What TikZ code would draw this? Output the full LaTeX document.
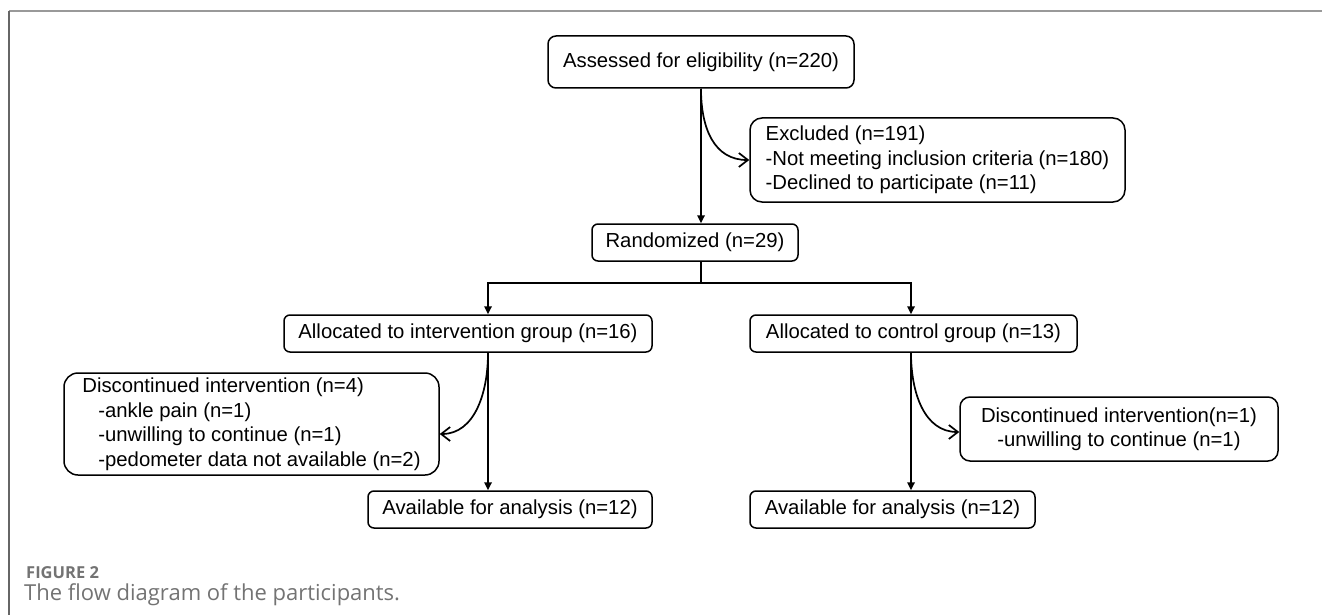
\documentclass[tikz,border=0pt]{standalone}
\usepackage{fontspec}
\setmainfont{Liberation Sans}
\newfontfamily\capfont{Open Sans}
\usetikzlibrary{arrows.meta}

\begin{document}
\begin{tikzpicture}[x=1pt, y=-1pt,
    box/.style={draw, line width=1.5pt, rounded corners=6pt, minimum height=37, inner xsep=0pt, inner ysep=0pt,
        font=\fontsize{20.3}{24.5}\selectfont},
    line/.style={line width=1.7pt},
    arr/.style={line width=1.7pt, -{Triangle[length=8pt,width=7.5pt]}},
    carr/.style={line width=1.7pt, -{Straight Barb[length=9pt,width=14pt]}}]
    \useasboundingbox (0,0) rectangle (1322,615);
    \draw[color=black!40, line width=1.5pt] (9,11) -- (1322,11);
    \draw[color=black!60, line width=1.2pt] (9,11) -- (9,615);

    \node[box, minimum width=306, minimum height=52, rounded corners=8pt] (assessed) at (701,62) {Assessed for eligibility (n=220)};
    \node[box, align=left, minimum width=375, minimum height=84, rounded corners=12pt] (excl) at (937.5,160) {Excluded (n=191)\\-Not meeting inclusion criteria (n=180)\\-Declined to participate (n=11)};
    \node[box, minimum width=206] (rand) at (695,242.5) {Randomized (n=29)};
    \node[box, minimum width=368] (allocI) at (468,333.5) {Allocated to intervention group (n=16)};
    \node[box, minimum width=327] (allocC) at (913.5,333.5) {Allocated to control group (n=13)};
    \node[box, align=left, minimum width=375, minimum height=102, rounded corners=14pt] (discI) at (251.5,424) {Discontinued intervention (n=4)\\\hspace*{16pt}-ankle pain (n=1)\\\hspace*{16pt}-unwilling to continue (n=1)\\\hspace*{16pt}-pedometer data not available (n=2)};
    \node[box, align=center, minimum width=318, minimum height=64, rounded corners=10pt] (discC) at (1119,429) {Discontinued intervention(n=1)\\-unwilling to continue (n=1)};
    \node[box, minimum width=284] (availI) at (510,509.5) {Available for analysis (n=12)};
    \node[box, minimum width=285] (availC) at (892.5,509.5) {Available for analysis (n=12)};

    \coordinate (fork) at (701,283);
    \coordinate (forkL) at (488,283);
    \coordinate (forkR) at (911,283);

    \draw[arr] (assessed.south) -- (assessed.south |- rand.north);
    \draw[carr] (assessed.south) .. controls +(0,40) and +(-35,0) .. (excl.west);
    \draw[line] (rand.south -| fork) -- (fork);
    \draw[arr] (fork) -- (forkL) -- (forkL |- allocI.north);
    \draw[arr] (fork) -- (forkR) -- (forkR |- allocC.north);
    \draw[arr] (forkL |- allocI.south) -- (forkL |- availI.north);
    \draw[carr] (forkL |- allocI.south) .. controls +(0,40) and +(35,0) .. ([yshift=-10pt]discI.east);
    \draw[arr] (forkR |- allocC.south) -- (forkR |- availC.north);
    \draw[carr] (forkR |- allocC.south) .. controls +(0,40) and +(-35,0) .. ([yshift=-3pt]discC.west);

    \node[anchor=west, inner sep=0pt, text=black!55, font=\capfont\bfseries\fontsize{16.5}{18}\selectfont] (figno) at (26,573) {FIGURE 2};
    \node[anchor=west, inner sep=0pt, text=black!55, font=\capfont\fontsize{22}{24}\selectfont] (caption) at (24,595) {The flow diagram of the participants.};
\end{tikzpicture}
\end{document}
